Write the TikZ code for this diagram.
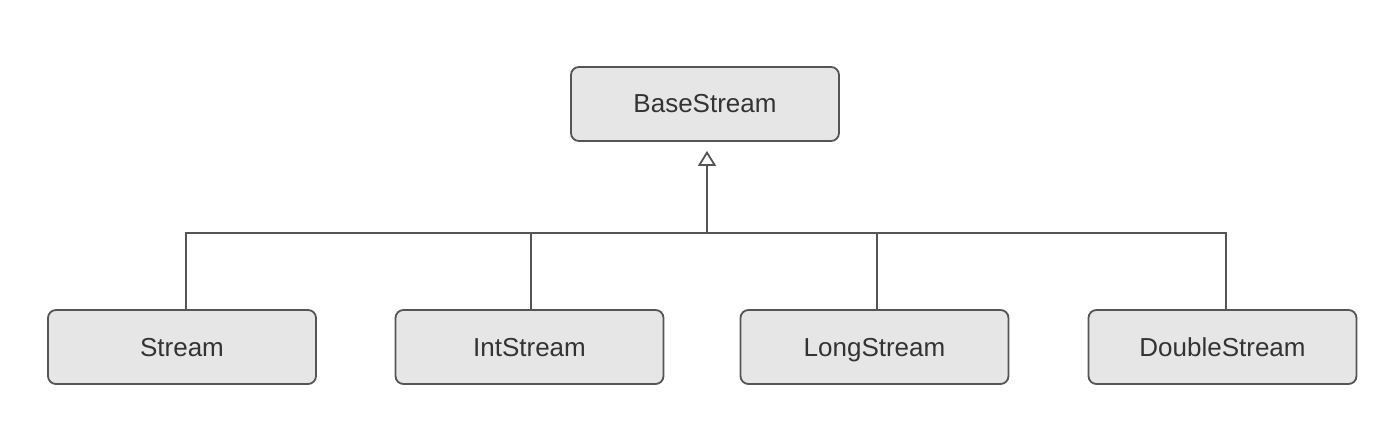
\documentclass[tikz,border=0pt]{standalone}
\usepackage{fontspec}
\setmainfont{Liberation Sans}
\usetikzlibrary{arrows.meta}
\definecolor{boxfill}{HTML}{E6E6E6}
\definecolor{edge}{HTML}{555555}
\begin{document}
\begin{tikzpicture}[x=1pt,y=-1pt,
  cls/.style={draw=edge, line width=1.8pt, fill=boxfill, rounded corners=8pt,
    minimum width=268pt, minimum height=74pt, inner sep=0pt,
    text height=19pt, text depth=1pt,
    font=\fontsize{26}{30}\selectfont, text=black!80},
  conn/.style={draw=edge, line width=1.8pt},
  inh/.style={conn, -{Triangle[open, length=15pt, width=18pt, line width=1.8pt]}, shorten >=9pt}]
\useasboundingbox (0,0) rectangle (1390,438);
\node[cls] (base) at (705,104) {BaseStream};
\node[cls] (s) at (182,347) {Stream};
\node[cls] (i) at (529.5,347) {IntStream};
\node[cls] (l) at (874.5,347) {LongStream};
\node[cls] (d) at (1222.5,347) {DoubleStream};
\coordinate (j) at (707,233);
\draw[conn] ([xshift=4pt]s.north) |- (j);
\draw[conn] ([xshift=1.5pt]i.north) |- (j);
\draw[conn] ([xshift=2.5pt]l.north) |- (j);
\draw[conn] ([xshift=3.5pt]d.north) |- (j);
\draw[inh] (j) -- (j |- base.south);
\end{tikzpicture}
\end{document}
